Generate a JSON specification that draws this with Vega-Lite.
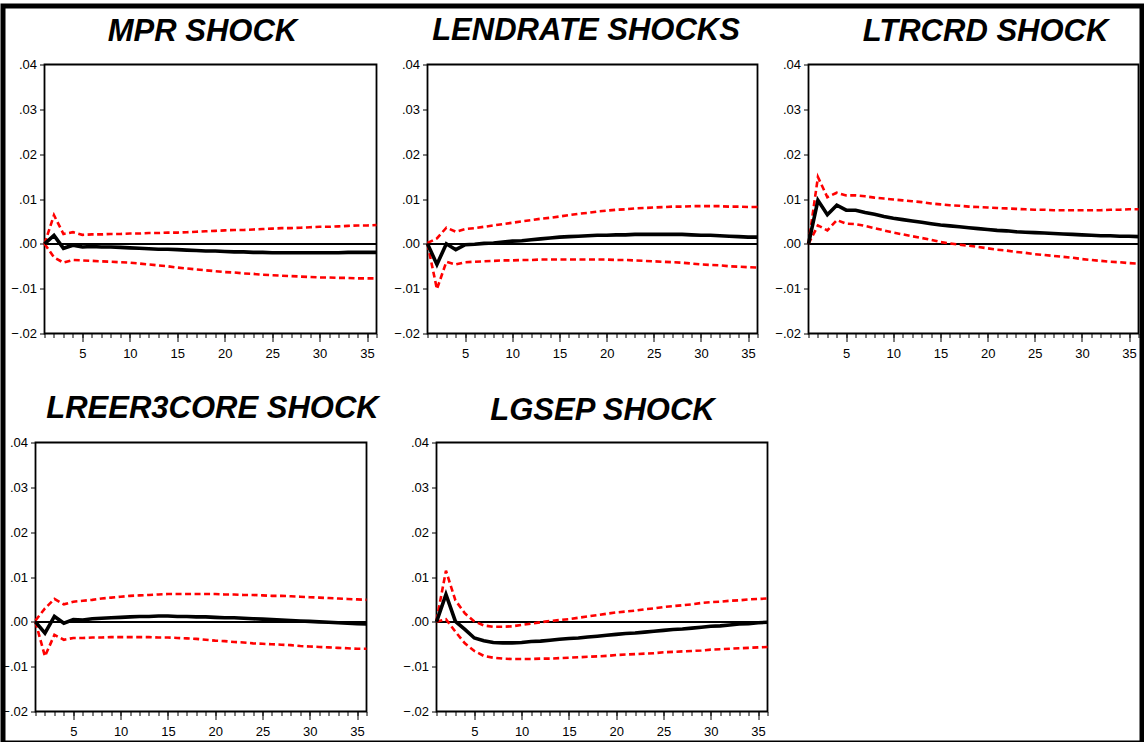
{
"$schema": "https://vega.github.io/schema/vega-lite/v6.json",
"padding": 0,
"background": "white",
"config": {
 "view": {"stroke": "black", "strokeWidth": 1.8},
 "axis": {"labelFont": "Liberation Sans, Arial, sans-serif", "labelFontSize": 13, "labelColor": "black", "tickColor": "black", "tickWidth": 1, "domainColor": "black", "grid": false},
 "title": {"font": "Liberation Sans, Arial, sans-serif", "fontSize": 31, "fontWeight": "bold", "fontStyle": "italic", "color": "black", "anchor": "middle", "frame": "group", "baseline": "alphabetic"}
},
"datasets": {"irf": [
{"g":"MPR","p":1,"r":0,"lo":0,"hi":0},
{"g":"MPR","p":2,"r":0.0019,"lo":-0.0030,"hi":0.0064},
{"g":"MPR","p":3,"r":-0.0010,"lo":-0.0042,"hi":0.0022},
{"g":"MPR","p":4,"r":-0.0003,"lo":-0.0036,"hi":0.0026},
{"g":"MPR","p":5,"r":-0.0007,"lo":-0.0037,"hi":0.0020},
{"g":"MPR","p":6,"r":-0.0006,"lo":-0.0038,"hi":0.0021},
{"g":"MPR","p":7,"r":-0.0007,"lo":-0.0039,"hi":0.0021},
{"g":"MPR","p":8,"r":-0.0007,"lo":-0.0040,"hi":0.0022},
{"g":"MPR","p":9,"r":-0.0008,"lo":-0.0041,"hi":0.0022},
{"g":"MPR","p":10,"r":-0.0009,"lo":-0.0042,"hi":0.0023},
{"g":"MPR","p":11,"r":-0.0010,"lo":-0.0044,"hi":0.0023},
{"g":"MPR","p":12,"r":-0.0011,"lo":-0.0046,"hi":0.0024},
{"g":"MPR","p":13,"r":-0.0012,"lo":-0.0048,"hi":0.0024},
{"g":"MPR","p":14,"r":-0.0012,"lo":-0.0050,"hi":0.0025},
{"g":"MPR","p":15,"r":-0.0013,"lo":-0.0053,"hi":0.0025},
{"g":"MPR","p":16,"r":-0.0014,"lo":-0.0055,"hi":0.0026},
{"g":"MPR","p":17,"r":-0.0015,"lo":-0.0057,"hi":0.0027},
{"g":"MPR","p":18,"r":-0.0016,"lo":-0.0059,"hi":0.0028},
{"g":"MPR","p":19,"r":-0.0016,"lo":-0.0061,"hi":0.0029},
{"g":"MPR","p":20,"r":-0.0017,"lo":-0.0063,"hi":0.0030},
{"g":"MPR","p":21,"r":-0.0018,"lo":-0.0064,"hi":0.0031},
{"g":"MPR","p":22,"r":-0.0018,"lo":-0.0066,"hi":0.0031},
{"g":"MPR","p":23,"r":-0.0019,"lo":-0.0067,"hi":0.0032},
{"g":"MPR","p":24,"r":-0.0019,"lo":-0.0069,"hi":0.0033},
{"g":"MPR","p":25,"r":-0.0020,"lo":-0.0070,"hi":0.0034},
{"g":"MPR","p":26,"r":-0.0020,"lo":-0.0071,"hi":0.0035},
{"g":"MPR","p":27,"r":-0.0020,"lo":-0.0072,"hi":0.0035},
{"g":"MPR","p":28,"r":-0.0020,"lo":-0.0073,"hi":0.0036},
{"g":"MPR","p":29,"r":-0.0020,"lo":-0.0074,"hi":0.0037},
{"g":"MPR","p":30,"r":-0.0020,"lo":-0.0075,"hi":0.0038},
{"g":"MPR","p":31,"r":-0.0020,"lo":-0.0075,"hi":0.0038},
{"g":"MPR","p":32,"r":-0.0020,"lo":-0.0076,"hi":0.0039},
{"g":"MPR","p":33,"r":-0.0019,"lo":-0.0076,"hi":0.0040},
{"g":"MPR","p":34,"r":-0.0019,"lo":-0.0077,"hi":0.0041},
{"g":"MPR","p":35,"r":-0.0019,"lo":-0.0077,"hi":0.0041},
{"g":"MPR","p":36,"r":-0.0019,"lo":-0.0077,"hi":0.0042},
{"g":"LEND","p":1,"r":0,"lo":0,"hi":0.0002},
{"g":"LEND","p":2,"r":-0.0046,"lo":-0.0101,"hi":0.0012},
{"g":"LEND","p":3,"r":0.0000,"lo":-0.0040,"hi":0.0036},
{"g":"LEND","p":4,"r":-0.0013,"lo":-0.0046,"hi":0.0027},
{"g":"LEND","p":5,"r":-0.0002,"lo":-0.0041,"hi":0.0033},
{"g":"LEND","p":6,"r":-0.0001,"lo":-0.0040,"hi":0.0035},
{"g":"LEND","p":7,"r":0.0001,"lo":-0.0039,"hi":0.0038},
{"g":"LEND","p":8,"r":0.0002,"lo":-0.0038,"hi":0.0041},
{"g":"LEND","p":9,"r":0.0004,"lo":-0.0037,"hi":0.0044},
{"g":"LEND","p":10,"r":0.0006,"lo":-0.0037,"hi":0.0047},
{"g":"LEND","p":11,"r":0.0007,"lo":-0.0036,"hi":0.0050},
{"g":"LEND","p":12,"r":0.0009,"lo":-0.0036,"hi":0.0053},
{"g":"LEND","p":13,"r":0.0011,"lo":-0.0035,"hi":0.0056},
{"g":"LEND","p":14,"r":0.0013,"lo":-0.0035,"hi":0.0058},
{"g":"LEND","p":15,"r":0.0015,"lo":-0.0035,"hi":0.0061},
{"g":"LEND","p":16,"r":0.0016,"lo":-0.0035,"hi":0.0064},
{"g":"LEND","p":17,"r":0.0017,"lo":-0.0035,"hi":0.0067},
{"g":"LEND","p":18,"r":0.0018,"lo":-0.0035,"hi":0.0069},
{"g":"LEND","p":19,"r":0.0019,"lo":-0.0035,"hi":0.0072},
{"g":"LEND","p":20,"r":0.0019,"lo":-0.0035,"hi":0.0074},
{"g":"LEND","p":21,"r":0.0020,"lo":-0.0036,"hi":0.0076},
{"g":"LEND","p":22,"r":0.0020,"lo":-0.0036,"hi":0.0077},
{"g":"LEND","p":23,"r":0.0021,"lo":-0.0037,"hi":0.0079},
{"g":"LEND","p":24,"r":0.0021,"lo":-0.0038,"hi":0.0080},
{"g":"LEND","p":25,"r":0.0021,"lo":-0.0039,"hi":0.0081},
{"g":"LEND","p":26,"r":0.0021,"lo":-0.0040,"hi":0.0082},
{"g":"LEND","p":27,"r":0.0021,"lo":-0.0041,"hi":0.0083},
{"g":"LEND","p":28,"r":0.0021,"lo":-0.0042,"hi":0.0083},
{"g":"LEND","p":29,"r":0.0020,"lo":-0.0044,"hi":0.0084},
{"g":"LEND","p":30,"r":0.0019,"lo":-0.0046,"hi":0.0084},
{"g":"LEND","p":31,"r":0.0019,"lo":-0.0047,"hi":0.0084},
{"g":"LEND","p":32,"r":0.0018,"lo":-0.0048,"hi":0.0084},
{"g":"LEND","p":33,"r":0.0017,"lo":-0.0050,"hi":0.0083},
{"g":"LEND","p":34,"r":0.0016,"lo":-0.0051,"hi":0.0083},
{"g":"LEND","p":35,"r":0.0015,"lo":-0.0052,"hi":0.0082},
{"g":"LEND","p":36,"r":0.0015,"lo":-0.0053,"hi":0.0082},
{"g":"LTR","p":1,"r":0,"lo":0,"hi":0},
{"g":"LTR","p":2,"r":0.0097,"lo":0.0041,"hi":0.0149},
{"g":"LTR","p":3,"r":0.0065,"lo":0.0030,"hi":0.0104},
{"g":"LTR","p":4,"r":0.0086,"lo":0.0053,"hi":0.0114},
{"g":"LTR","p":5,"r":0.0075,"lo":0.0045,"hi":0.0108},
{"g":"LTR","p":6,"r":0.0075,"lo":0.0044,"hi":0.0108},
{"g":"LTR","p":7,"r":0.0070,"lo":0.0040,"hi":0.0106},
{"g":"LTR","p":8,"r":0.0066,"lo":0.0035,"hi":0.0103},
{"g":"LTR","p":9,"r":0.0061,"lo":0.0030,"hi":0.0101},
{"g":"LTR","p":10,"r":0.0057,"lo":0.0025,"hi":0.0099},
{"g":"LTR","p":11,"r":0.0054,"lo":0.0021,"hi":0.0097},
{"g":"LTR","p":12,"r":0.0051,"lo":0.0017,"hi":0.0095},
{"g":"LTR","p":13,"r":0.0048,"lo":0.0013,"hi":0.0093},
{"g":"LTR","p":14,"r":0.0045,"lo":0.0009,"hi":0.0090},
{"g":"LTR","p":15,"r":0.0042,"lo":0.0004,"hi":0.0088},
{"g":"LTR","p":16,"r":0.0040,"lo":0.0001,"hi":0.0086},
{"g":"LTR","p":17,"r":0.0038,"lo":-0.0002,"hi":0.0085},
{"g":"LTR","p":18,"r":0.0036,"lo":-0.0004,"hi":0.0083},
{"g":"LTR","p":19,"r":0.0034,"lo":-0.0007,"hi":0.0082},
{"g":"LTR","p":20,"r":0.0032,"lo":-0.0010,"hi":0.0081},
{"g":"LTR","p":21,"r":0.0030,"lo":-0.0013,"hi":0.0080},
{"g":"LTR","p":22,"r":0.0029,"lo":-0.0015,"hi":0.0079},
{"g":"LTR","p":23,"r":0.0027,"lo":-0.0018,"hi":0.0078},
{"g":"LTR","p":24,"r":0.0026,"lo":-0.0020,"hi":0.0077},
{"g":"LTR","p":25,"r":0.0025,"lo":-0.0023,"hi":0.0076},
{"g":"LTR","p":26,"r":0.0024,"lo":-0.0025,"hi":0.0076},
{"g":"LTR","p":27,"r":0.0023,"lo":-0.0027,"hi":0.0075},
{"g":"LTR","p":28,"r":0.0022,"lo":-0.0029,"hi":0.0075},
{"g":"LTR","p":29,"r":0.0021,"lo":-0.0031,"hi":0.0075},
{"g":"LTR","p":30,"r":0.0020,"lo":-0.0034,"hi":0.0075},
{"g":"LTR","p":31,"r":0.0019,"lo":-0.0036,"hi":0.0075},
{"g":"LTR","p":32,"r":0.0018,"lo":-0.0038,"hi":0.0075},
{"g":"LTR","p":33,"r":0.0018,"lo":-0.0040,"hi":0.0076},
{"g":"LTR","p":34,"r":0.0017,"lo":-0.0041,"hi":0.0076},
{"g":"LTR","p":35,"r":0.0017,"lo":-0.0043,"hi":0.0077},
{"g":"LTR","p":36,"r":0.0016,"lo":-0.0044,"hi":0.0077},
{"g":"LREER","p":1,"r":0,"lo":0,"hi":0.0003},
{"g":"LREER","p":2,"r":-0.0025,"lo":-0.0077,"hi":0.0030},
{"g":"LREER","p":3,"r":0.0012,"lo":-0.0029,"hi":0.0051},
{"g":"LREER","p":4,"r":-0.0003,"lo":-0.0040,"hi":0.0039},
{"g":"LREER","p":5,"r":0.0005,"lo":-0.0036,"hi":0.0045},
{"g":"LREER","p":6,"r":0.0004,"lo":-0.0036,"hi":0.0047},
{"g":"LREER","p":7,"r":0.0007,"lo":-0.0035,"hi":0.0049},
{"g":"LREER","p":8,"r":0.0008,"lo":-0.0035,"hi":0.0052},
{"g":"LREER","p":9,"r":0.0009,"lo":-0.0034,"hi":0.0054},
{"g":"LREER","p":10,"r":0.0010,"lo":-0.0034,"hi":0.0056},
{"g":"LREER","p":11,"r":0.0011,"lo":-0.0034,"hi":0.0058},
{"g":"LREER","p":12,"r":0.0012,"lo":-0.0034,"hi":0.0059},
{"g":"LREER","p":13,"r":0.0012,"lo":-0.0034,"hi":0.0060},
{"g":"LREER","p":14,"r":0.0013,"lo":-0.0035,"hi":0.0061},
{"g":"LREER","p":15,"r":0.0013,"lo":-0.0035,"hi":0.0062},
{"g":"LREER","p":16,"r":0.0012,"lo":-0.0036,"hi":0.0062},
{"g":"LREER","p":17,"r":0.0012,"lo":-0.0037,"hi":0.0062},
{"g":"LREER","p":18,"r":0.0011,"lo":-0.0038,"hi":0.0062},
{"g":"LREER","p":19,"r":0.0011,"lo":-0.0040,"hi":0.0062},
{"g":"LREER","p":20,"r":0.0010,"lo":-0.0042,"hi":0.0062},
{"g":"LREER","p":21,"r":0.0009,"lo":-0.0043,"hi":0.0061},
{"g":"LREER","p":22,"r":0.0009,"lo":-0.0045,"hi":0.0061},
{"g":"LREER","p":23,"r":0.0008,"lo":-0.0046,"hi":0.0060},
{"g":"LREER","p":24,"r":0.0007,"lo":-0.0048,"hi":0.0060},
{"g":"LREER","p":25,"r":0.0006,"lo":-0.0049,"hi":0.0059},
{"g":"LREER","p":26,"r":0.0005,"lo":-0.0050,"hi":0.0058},
{"g":"LREER","p":27,"r":0.0004,"lo":-0.0051,"hi":0.0058},
{"g":"LREER","p":28,"r":0.0003,"lo":-0.0052,"hi":0.0057},
{"g":"LREER","p":29,"r":0.0002,"lo":-0.0054,"hi":0.0056},
{"g":"LREER","p":30,"r":0.0001,"lo":-0.0055,"hi":0.0055},
{"g":"LREER","p":31,"r":0.0000,"lo":-0.0056,"hi":0.0054},
{"g":"LREER","p":32,"r":-0.0001,"lo":-0.0057,"hi":0.0053},
{"g":"LREER","p":33,"r":-0.0002,"lo":-0.0058,"hi":0.0052},
{"g":"LREER","p":34,"r":-0.0003,"lo":-0.0059,"hi":0.0051},
{"g":"LREER","p":35,"r":-0.0004,"lo":-0.0060,"hi":0.0050},
{"g":"LREER","p":36,"r":-0.0005,"lo":-0.0060,"hi":0.0049},
{"g":"LGSEP","p":1,"r":0,"lo":0,"hi":0.0003},
{"g":"LGSEP","p":2,"r":0.0061,"lo":0.0006,"hi":0.0114},
{"g":"LGSEP","p":3,"r":0.0001,"lo":-0.0022,"hi":0.0048},
{"g":"LGSEP","p":4,"r":-0.0017,"lo":-0.0048,"hi":0.0019},
{"g":"LGSEP","p":5,"r":-0.0036,"lo":-0.0065,"hi":0.0001},
{"g":"LGSEP","p":6,"r":-0.0042,"lo":-0.0076,"hi":-0.0008},
{"g":"LGSEP","p":7,"r":-0.0046,"lo":-0.0080,"hi":-0.0011},
{"g":"LGSEP","p":8,"r":-0.0047,"lo":-0.0082,"hi":-0.0011},
{"g":"LGSEP","p":9,"r":-0.0047,"lo":-0.0083,"hi":-0.0010},
{"g":"LGSEP","p":10,"r":-0.0046,"lo":-0.0083,"hi":-0.0007},
{"g":"LGSEP","p":11,"r":-0.0044,"lo":-0.0083,"hi":-0.0004},
{"g":"LGSEP","p":12,"r":-0.0043,"lo":-0.0082,"hi":-0.0001},
{"g":"LGSEP","p":13,"r":-0.0041,"lo":-0.0082,"hi":0.0002},
{"g":"LGSEP","p":14,"r":-0.0039,"lo":-0.0081,"hi":0.0004},
{"g":"LGSEP","p":15,"r":-0.0037,"lo":-0.0080,"hi":0.0006},
{"g":"LGSEP","p":16,"r":-0.0036,"lo":-0.0079,"hi":0.0009},
{"g":"LGSEP","p":17,"r":-0.0034,"lo":-0.0078,"hi":0.0012},
{"g":"LGSEP","p":18,"r":-0.0032,"lo":-0.0077,"hi":0.0015},
{"g":"LGSEP","p":19,"r":-0.0030,"lo":-0.0076,"hi":0.0018},
{"g":"LGSEP","p":20,"r":-0.0028,"lo":-0.0074,"hi":0.0021},
{"g":"LGSEP","p":21,"r":-0.0026,"lo":-0.0073,"hi":0.0023},
{"g":"LGSEP","p":22,"r":-0.0025,"lo":-0.0072,"hi":0.0025},
{"g":"LGSEP","p":23,"r":-0.0023,"lo":-0.0071,"hi":0.0028},
{"g":"LGSEP","p":24,"r":-0.0021,"lo":-0.0070,"hi":0.0030},
{"g":"LGSEP","p":25,"r":-0.0019,"lo":-0.0068,"hi":0.0033},
{"g":"LGSEP","p":26,"r":-0.0017,"lo":-0.0067,"hi":0.0035},
{"g":"LGSEP","p":27,"r":-0.0016,"lo":-0.0066,"hi":0.0037},
{"g":"LGSEP","p":28,"r":-0.0014,"lo":-0.0065,"hi":0.0039},
{"g":"LGSEP","p":29,"r":-0.0012,"lo":-0.0064,"hi":0.0042},
{"g":"LGSEP","p":30,"r":-0.0010,"lo":-0.0062,"hi":0.0044},
{"g":"LGSEP","p":31,"r":-0.0009,"lo":-0.0061,"hi":0.0045},
{"g":"LGSEP","p":32,"r":-0.0007,"lo":-0.0060,"hi":0.0047},
{"g":"LGSEP","p":33,"r":-0.0005,"lo":-0.0059,"hi":0.0048},
{"g":"LGSEP","p":34,"r":-0.0004,"lo":-0.0058,"hi":0.0050},
{"g":"LGSEP","p":35,"r":-0.0002,"lo":-0.0057,"hi":0.0051},
{"g":"LGSEP","p":36,"r":-0.0001,"lo":-0.0056,"hi":0.0052}
]},
"bounds": "flush",
"spacing": 0,
"hconcat": [
 {
  "bounds": "flush",
  "spacing": 31.5,
  "hconcat": [
   {"width": 1, "height": 1, "data": {"values": [{}]}, "mark": {"type": "text", "text": ""}, "view": {"stroke": null}},
   {
    "bounds": "flush",
    "spacing": 57.5,
    "vconcat": [
     {"width": 1, "height": 1, "data": {"values": [{}]}, "mark": {"type": "text", "text": ""}, "view": {"stroke": null}},
     {
      "bounds": "flush",
      "spacing": 378,
      "vconcat": [
       {
        "bounds": "flush",
        "spacing": 8,
        "hconcat": [
         {"width": 1, "height": 1, "data": {"values": [{}]}, "mark": {"type": "text", "text": ""}, "view": {"stroke": null}},
         {
          "bounds": "flush",
          "spacing": 51,
          "hconcat": [
           {
            "width": 332, "height": 269,
            "title": {"text": "MPR SHOCK", "dx": -8, "offset": 10.5},
            "data": {"name": "irf"},
            "transform": [{"filter": "datum.g === 'MPR'"}],
            "layer": [
             {"mark": {"type": "rule", "color": "black", "strokeWidth": 1}, "encoding": {"y": {"datum": 0, "type": "quantitative", "scale": {"domain": [-0.02, 0.04], "nice": false, "zero": false}, "axis": {"values": [-0.02, -0.01, 0, 0.01, 0.02, 0.03, 0.04], "labelExpr": "replace(format(datum.value, '.2f'), '0.', '.')", "tickSize": 5, "labelPadding": 3, "domain": false, "title": null}}}},
             {"mark": {"type": "line", "color": "#ff0000", "strokeWidth": 2.6, "strokeDash": [6, 3.5]}, "encoding": {"x": {"field": "p", "type": "quantitative", "scale": {"domain": [1, 36], "nice": false, "zero": false}, "axis": {"orient": "bottom", "values": [1,2,3,4,5,6,7,8,9,10,11,12,13,14,15,16,17,18,19,20,21,22,23,24,25,26,27,28,29,30,31,32,33,34,35,36], "tickSize": 4, "labels": false, "domain": false, "title": null}}, "y": {"field": "hi", "type": "quantitative", "scale": {"domain": [-0.02, 0.04], "nice": false, "zero": false}, "axis": {"values": [-0.02, -0.01, 0, 0.01, 0.02, 0.03, 0.04], "labelExpr": "replace(format(datum.value, '.2f'), '0.', '.')", "tickSize": 5, "labelPadding": 3, "domain": false, "title": null}}}},
             {"mark": {"type": "line", "color": "#ff0000", "strokeWidth": 2.6, "strokeDash": [6, 3.5]}, "encoding": {"x": {"field": "p", "type": "quantitative", "scale": {"domain": [1, 36], "nice": false, "zero": false}, "axis": null}, "y": {"field": "lo", "type": "quantitative", "scale": {"domain": [-0.02, 0.04], "nice": false, "zero": false}, "axis": {"values": [-0.02, -0.01, 0, 0.01, 0.02, 0.03, 0.04], "labelExpr": "replace(format(datum.value, '.2f'), '0.', '.')", "tickSize": 5, "labelPadding": 3, "domain": false, "title": null}}}},
             {"mark": {"type": "line", "color": "black", "strokeWidth": 3.6}, "encoding": {"x": {"field": "p", "type": "quantitative", "scale": {"domain": [1, 36], "nice": false, "zero": false}, "axis": {"orient": "bottom", "values": [5, 10, 15, 20, 25, 30, 35], "tickSize": 8, "labelPadding": 6, "domain": false, "title": null}}, "y": {"field": "r", "type": "quantitative", "scale": {"domain": [-0.02, 0.04], "nice": false, "zero": false}, "axis": {"values": [-0.02, -0.01, 0, 0.01, 0.02, 0.03, 0.04], "labelExpr": "replace(format(datum.value, '.2f'), '0.', '.')", "tickSize": 5, "labelPadding": 3, "domain": false, "title": null}}}}
            ],
            "resolve": {"axis": {"x": "independent"}}
           },
           {
            "width": 330, "height": 269,
            "title": {"text": "LENDRATE SHOCKS", "dx": -6.5, "offset": 11.5},
            "data": {"name": "irf"},
            "transform": [{"filter": "datum.g === 'LEND'"}],
            "layer": [
             {"mark": {"type": "rule", "color": "black", "strokeWidth": 1}, "encoding": {"y": {"datum": 0, "type": "quantitative", "scale": {"domain": [-0.02, 0.04], "nice": false, "zero": false}, "axis": {"values": [-0.02, -0.01, 0, 0.01, 0.02, 0.03, 0.04], "labelExpr": "replace(format(datum.value, '.2f'), '0.', '.')", "tickSize": 5, "labelPadding": 3, "domain": false, "title": null}}}},
             {"mark": {"type": "line", "color": "#ff0000", "strokeWidth": 2.6, "strokeDash": [6, 3.5]}, "encoding": {"x": {"field": "p", "type": "quantitative", "scale": {"domain": [1, 36], "nice": false, "zero": false}, "axis": {"orient": "bottom", "values": [1,2,3,4,5,6,7,8,9,10,11,12,13,14,15,16,17,18,19,20,21,22,23,24,25,26,27,28,29,30,31,32,33,34,35,36], "tickSize": 4, "labels": false, "domain": false, "title": null}}, "y": {"field": "hi", "type": "quantitative", "scale": {"domain": [-0.02, 0.04], "nice": false, "zero": false}, "axis": {"values": [-0.02, -0.01, 0, 0.01, 0.02, 0.03, 0.04], "labelExpr": "replace(format(datum.value, '.2f'), '0.', '.')", "tickSize": 5, "labelPadding": 3, "domain": false, "title": null}}}},
             {"mark": {"type": "line", "color": "#ff0000", "strokeWidth": 2.6, "strokeDash": [6, 3.5]}, "encoding": {"x": {"field": "p", "type": "quantitative", "scale": {"domain": [1, 36], "nice": false, "zero": false}, "axis": null}, "y": {"field": "lo", "type": "quantitative", "scale": {"domain": [-0.02, 0.04], "nice": false, "zero": false}, "axis": {"values": [-0.02, -0.01, 0, 0.01, 0.02, 0.03, 0.04], "labelExpr": "replace(format(datum.value, '.2f'), '0.', '.')", "tickSize": 5, "labelPadding": 3, "domain": false, "title": null}}}},
             {"mark": {"type": "line", "color": "black", "strokeWidth": 3.6}, "encoding": {"x": {"field": "p", "type": "quantitative", "scale": {"domain": [1, 36], "nice": false, "zero": false}, "axis": {"orient": "bottom", "values": [5, 10, 15, 20, 25, 30, 35], "tickSize": 8, "labelPadding": 6, "domain": false, "title": null}}, "y": {"field": "r", "type": "quantitative", "scale": {"domain": [-0.02, 0.04], "nice": false, "zero": false}, "axis": {"values": [-0.02, -0.01, 0, 0.01, 0.02, 0.03, 0.04], "labelExpr": "replace(format(datum.value, '.2f'), '0.', '.')", "tickSize": 5, "labelPadding": 3, "domain": false, "title": null}}}}
            ],
            "resolve": {"axis": {"x": "independent"}}
           },
           {
            "width": 330, "height": 269,
            "title": {"text": "LTRCRD SHOCK", "dx": 12, "offset": 11},
            "data": {"name": "irf"},
            "transform": [{"filter": "datum.g === 'LTR'"}],
            "layer": [
             {"mark": {"type": "rule", "color": "black", "strokeWidth": 1}, "encoding": {"y": {"datum": 0, "type": "quantitative", "scale": {"domain": [-0.02, 0.04], "nice": false, "zero": false}, "axis": {"values": [-0.02, -0.01, 0, 0.01, 0.02, 0.03, 0.04], "labelExpr": "replace(format(datum.value, '.2f'), '0.', '.')", "tickSize": 5, "labelPadding": 3, "domain": false, "title": null}}}},
             {"mark": {"type": "line", "color": "#ff0000", "strokeWidth": 2.6, "strokeDash": [6, 3.5]}, "encoding": {"x": {"field": "p", "type": "quantitative", "scale": {"domain": [1, 36], "nice": false, "zero": false}, "axis": {"orient": "bottom", "values": [1,2,3,4,5,6,7,8,9,10,11,12,13,14,15,16,17,18,19,20,21,22,23,24,25,26,27,28,29,30,31,32,33,34,35,36], "tickSize": 4, "labels": false, "domain": false, "title": null}}, "y": {"field": "hi", "type": "quantitative", "scale": {"domain": [-0.02, 0.04], "nice": false, "zero": false}, "axis": {"values": [-0.02, -0.01, 0, 0.01, 0.02, 0.03, 0.04], "labelExpr": "replace(format(datum.value, '.2f'), '0.', '.')", "tickSize": 5, "labelPadding": 3, "domain": false, "title": null}}}},
             {"mark": {"type": "line", "color": "#ff0000", "strokeWidth": 2.6, "strokeDash": [6, 3.5]}, "encoding": {"x": {"field": "p", "type": "quantitative", "scale": {"domain": [1, 36], "nice": false, "zero": false}, "axis": null}, "y": {"field": "lo", "type": "quantitative", "scale": {"domain": [-0.02, 0.04], "nice": false, "zero": false}, "axis": {"values": [-0.02, -0.01, 0, 0.01, 0.02, 0.03, 0.04], "labelExpr": "replace(format(datum.value, '.2f'), '0.', '.')", "tickSize": 5, "labelPadding": 3, "domain": false, "title": null}}}},
             {"mark": {"type": "line", "color": "black", "strokeWidth": 3.6}, "encoding": {"x": {"field": "p", "type": "quantitative", "scale": {"domain": [1, 36], "nice": false, "zero": false}, "axis": {"orient": "bottom", "values": [5, 10, 15, 20, 25, 30, 35], "tickSize": 8, "labelPadding": 6, "domain": false, "title": null}}, "y": {"field": "r", "type": "quantitative", "scale": {"domain": [-0.02, 0.04], "nice": false, "zero": false}, "axis": {"values": [-0.02, -0.01, 0, 0.01, 0.02, 0.03, 0.04], "labelExpr": "replace(format(datum.value, '.2f'), '0.', '.')", "tickSize": 5, "labelPadding": 3, "domain": false, "title": null}}}}
            ],
            "resolve": {"axis": {"x": "independent"}}
           }
          ]
         }
        ]
       },
       {
        "bounds": "flush",
        "spacing": 70,
        "hconcat": [
         {
          "width": 331, "height": 269,
          "title": {"text": "LREER3CORE SHOCK", "dx": 11.5, "offset": 11.5},
          "data": {"name": "irf"},
          "transform": [{"filter": "datum.g === 'LREER'"}],
          "layer": [
           {"mark": {"type": "rule", "color": "black", "strokeWidth": 1}, "encoding": {"y": {"datum": 0, "type": "quantitative", "scale": {"domain": [-0.02, 0.04], "nice": false, "zero": false}, "axis": {"values": [-0.02, -0.01, 0, 0.01, 0.02, 0.03, 0.04], "labelExpr": "replace(format(datum.value, '.2f'), '0.', '.')", "tickSize": 5, "labelPadding": 3, "domain": false, "title": null}}}},
           {"mark": {"type": "line", "color": "#ff0000", "strokeWidth": 2.6, "strokeDash": [6, 3.5]}, "encoding": {"x": {"field": "p", "type": "quantitative", "scale": {"domain": [1, 36], "nice": false, "zero": false}, "axis": {"orient": "bottom", "values": [1,2,3,4,5,6,7,8,9,10,11,12,13,14,15,16,17,18,19,20,21,22,23,24,25,26,27,28,29,30,31,32,33,34,35,36], "tickSize": 4, "labels": false, "domain": false, "title": null}}, "y": {"field": "hi", "type": "quantitative", "scale": {"domain": [-0.02, 0.04], "nice": false, "zero": false}, "axis": {"values": [-0.02, -0.01, 0, 0.01, 0.02, 0.03, 0.04], "labelExpr": "replace(format(datum.value, '.2f'), '0.', '.')", "tickSize": 5, "labelPadding": 3, "domain": false, "title": null}}}},
           {"mark": {"type": "line", "color": "#ff0000", "strokeWidth": 2.6, "strokeDash": [6, 3.5]}, "encoding": {"x": {"field": "p", "type": "quantitative", "scale": {"domain": [1, 36], "nice": false, "zero": false}, "axis": null}, "y": {"field": "lo", "type": "quantitative", "scale": {"domain": [-0.02, 0.04], "nice": false, "zero": false}, "axis": {"values": [-0.02, -0.01, 0, 0.01, 0.02, 0.03, 0.04], "labelExpr": "replace(format(datum.value, '.2f'), '0.', '.')", "tickSize": 5, "labelPadding": 3, "domain": false, "title": null}}}},
           {"mark": {"type": "line", "color": "black", "strokeWidth": 3.6}, "encoding": {"x": {"field": "p", "type": "quantitative", "scale": {"domain": [1, 36], "nice": false, "zero": false}, "axis": {"orient": "bottom", "values": [5, 10, 15, 20, 25, 30, 35], "tickSize": 8, "labelPadding": 6, "domain": false, "title": null}}, "y": {"field": "r", "type": "quantitative", "scale": {"domain": [-0.02, 0.04], "nice": false, "zero": false}, "axis": {"values": [-0.02, -0.01, 0, 0.01, 0.02, 0.03, 0.04], "labelExpr": "replace(format(datum.value, '.2f'), '0.', '.')", "tickSize": 5, "labelPadding": 3, "domain": false, "title": null}}}}
          ],
          "resolve": {"axis": {"x": "independent"}}
         },
         {
          "width": 331, "height": 269,
          "title": {"text": "LGSEP SHOCK", "dx": 0.5, "offset": 9.5},
          "data": {"name": "irf"},
          "transform": [{"filter": "datum.g === 'LGSEP'"}],
          "layer": [
           {"mark": {"type": "rule", "color": "black", "strokeWidth": 1}, "encoding": {"y": {"datum": 0, "type": "quantitative", "scale": {"domain": [-0.02, 0.04], "nice": false, "zero": false}, "axis": {"values": [-0.02, -0.01, 0, 0.01, 0.02, 0.03, 0.04], "labelExpr": "replace(format(datum.value, '.2f'), '0.', '.')", "tickSize": 5, "labelPadding": 3, "domain": false, "title": null}}}},
           {"mark": {"type": "line", "color": "#ff0000", "strokeWidth": 2.6, "strokeDash": [6, 3.5]}, "encoding": {"x": {"field": "p", "type": "quantitative", "scale": {"domain": [1, 36], "nice": false, "zero": false}, "axis": {"orient": "bottom", "values": [1,2,3,4,5,6,7,8,9,10,11,12,13,14,15,16,17,18,19,20,21,22,23,24,25,26,27,28,29,30,31,32,33,34,35,36], "tickSize": 4, "labels": false, "domain": false, "title": null}}, "y": {"field": "hi", "type": "quantitative", "scale": {"domain": [-0.02, 0.04], "nice": false, "zero": false}, "axis": {"values": [-0.02, -0.01, 0, 0.01, 0.02, 0.03, 0.04], "labelExpr": "replace(format(datum.value, '.2f'), '0.', '.')", "tickSize": 5, "labelPadding": 3, "domain": false, "title": null}}}},
           {"mark": {"type": "line", "color": "#ff0000", "strokeWidth": 2.6, "strokeDash": [6, 3.5]}, "encoding": {"x": {"field": "p", "type": "quantitative", "scale": {"domain": [1, 36], "nice": false, "zero": false}, "axis": null}, "y": {"field": "lo", "type": "quantitative", "scale": {"domain": [-0.02, 0.04], "nice": false, "zero": false}, "axis": {"values": [-0.02, -0.01, 0, 0.01, 0.02, 0.03, 0.04], "labelExpr": "replace(format(datum.value, '.2f'), '0.', '.')", "tickSize": 5, "labelPadding": 3, "domain": false, "title": null}}}},
           {"mark": {"type": "line", "color": "black", "strokeWidth": 3.6}, "encoding": {"x": {"field": "p", "type": "quantitative", "scale": {"domain": [1, 36], "nice": false, "zero": false}, "axis": {"orient": "bottom", "values": [5, 10, 15, 20, 25, 30, 35], "tickSize": 8, "labelPadding": 6, "domain": false, "title": null}}, "y": {"field": "r", "type": "quantitative", "scale": {"domain": [-0.02, 0.04], "nice": false, "zero": false}, "axis": {"values": [-0.02, -0.01, 0, 0.01, 0.02, 0.03, 0.04], "labelExpr": "replace(format(datum.value, '.2f'), '0.', '.')", "tickSize": 5, "labelPadding": 3, "domain": false, "title": null}}}}
          ],
          "resolve": {"axis": {"x": "independent"}}
         }
        ]
       }
      ]
     }
    ]
   }
  ]
 },
 {"width": 1139, "height": 737, "data": {"values": [{}]}, "mark": {"type": "text", "text": ""}, "view": {"stroke": "black", "strokeWidth": 5, "fill": null}}
]
}
